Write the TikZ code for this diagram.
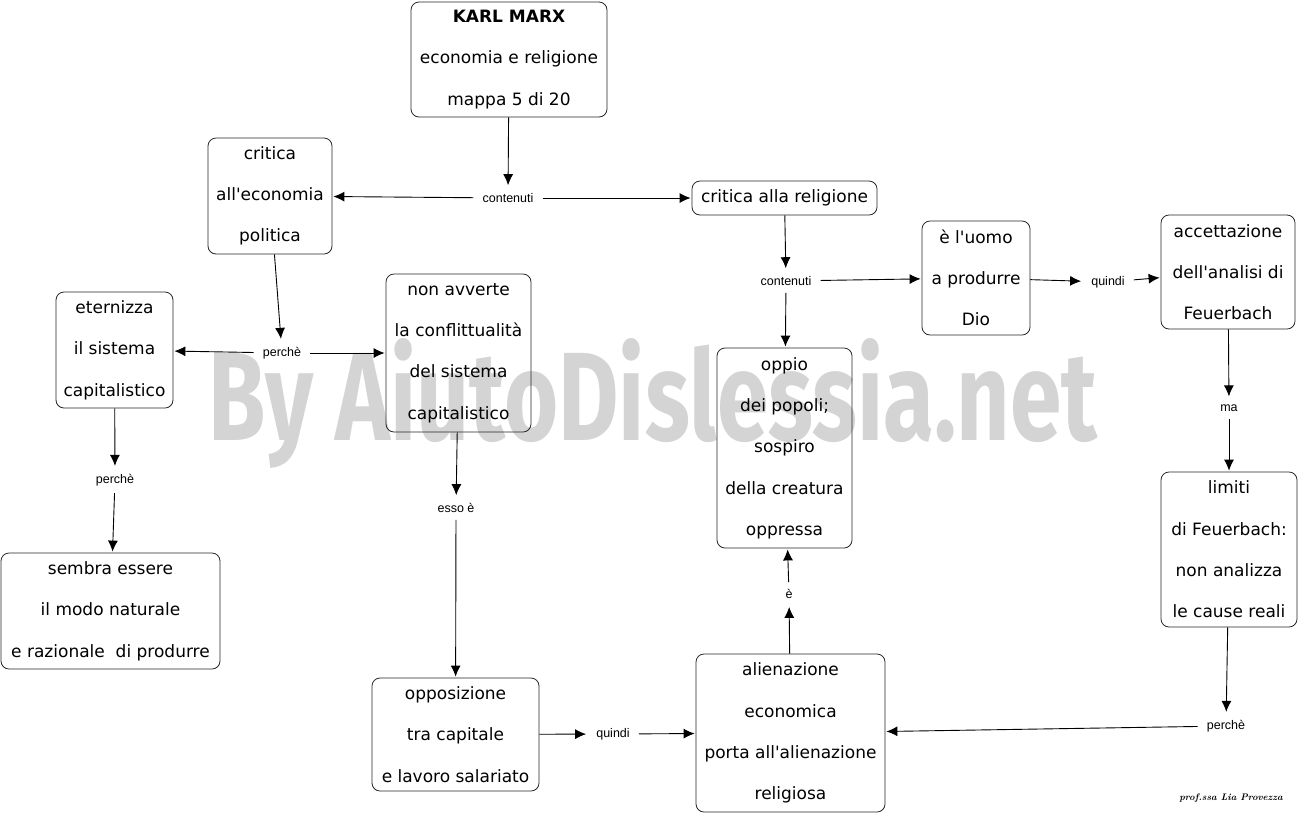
\documentclass[tikz,border=0pt]{standalone}
\usepackage{graphicx}
\usepackage{xcolor}
\usepackage{fontspec}
\usepackage{tikz}
\usetikzlibrary{arrows.meta}
\newfontfamily\boxfont{DejaVu Sans}
\newfontfamily\linkfont{Liberation Sans}
\newfontfamily\markfont{Fira Sans}
\definecolor{mark}{HTML}{D4D4D4}

\begin{document}
\begin{tikzpicture}[x = 1pt, y = -1pt,
  concept/.style = {draw = black!85, line width = .8pt, rounded corners = 8pt, align = center,
    inner sep = 0pt, font = \boxfont\fontsize{17}{41.3}\selectfont},
  word/.style = {inner xsep = 9pt, inner ysep = 7pt, font = \linkfont\fontsize{12.5}{14}\selectfont},
  link/.style = {-{Latex[length = 11pt, width = 10pt]}, line width = .9pt, shorten > = 1pt}]
  \useasboundingbox (0, 0) rectangle (1300, 815);
  % watermark
  \node[anchor = base west, inner sep = 0pt, text = mark] at (208, 440) (wm)
    {\resizebox{889pt}{102pt}{\markfont\bfseries By AiutoDislessia.net}};
  % concepts
  \node[concept, minimum width = 196pt, minimum height = 115pt] at (509, 59.5) (marx)
    {\textbf{KARL MARX}\\economia e religione\\mappa 5 di 20};
  \node[concept, minimum width = 124pt, minimum height = 116pt] at (270, 196) (econ)
    {critica\\all'economia\\politica};
  \node[concept, minimum width = 185pt, minimum height = 34pt] at (784.5, 198) (rel)
    {critica alla religione};
  \node[concept, minimum width = 117pt, minimum height = 116pt] at (114.5, 350) (eterna)
    {eternizza\\il sistema\\capitalistico};
  \node[concept, minimum width = 145pt, minimum height = 158pt] at (458.5, 353) (avverte)
    {non avverte\\la conflittualità\\del sistema\\capitalistico};
  \node[concept, minimum width = 108pt, minimum height = 114pt] at (976, 278) (uomo)
    {è l'uomo\\a produrre\\Dio};
  \node[concept, minimum width = 134pt, minimum height = 114pt] at (1228, 272) (feuer)
    {accettazione\\dell'analisi di\\Feuerbach};
  \node[concept, minimum width = 135pt, minimum height = 200pt] at (784.5, 448) (oppio)
    {oppio\\dei popoli;\\sospiro\\della creatura\\oppressa};
  \node[concept, minimum width = 136pt, minimum height = 155pt] at (1229, 549.5) (limiti)
    {limiti\\di Feuerbach:\\non analizza\\le cause reali};
  \node[concept, minimum width = 219pt, minimum height = 116pt] at (110.5, 611) (sembra)
    {sembra essere\\il modo naturale\\e razionale~ di produrre};
  \node[concept, minimum width = 167pt, minimum height = 113pt] at (455.5, 734.5) (oppos)
    {opposizione\\tra capitale\\e lavoro salariato};
  \node[concept, minimum width = 189pt, minimum height = 158pt] at (790.5, 733) (alien)
    {alienazione\\economica\\porta all'alienazione\\religiosa};
  % linking words
  \node[word] at (508, 198) (cont1) {contenuti};
  \node[word] at (282, 353) (perch1) {perchè};
  \node[word] at (115, 480) (perch2) {perchè};
  \node[word] at (456, 508) (esso) {esso è};
  \node[word] at (786, 281) (cont2) {contenuti};
  \node[word] at (1108, 282) (quindi1) {quindi};
  \node[word] at (1229, 408) (ma) {ma};
  \node[word] at (1226, 726) (perch3) {perchè};
  \node[word] at (789, 594) (e) {è};
  \node[word] at (613, 734) (quindi2) {quindi};
  % connectors
  \draw[link] (marx) -- (cont1);
  \draw[link] (cont1) -- (econ);
  \draw[link] (cont1) -- (rel);
  \draw[link] (econ) -- (perch1);
  \draw[link] (perch1) -- (eterna);
  \draw[link] (perch1) -- (avverte);
  \draw[link] (eterna) -- (perch2);
  \draw[link] (perch2) -- (sembra);
  \draw[link] (avverte) -- (esso);
  \draw[link] (esso) -- (oppos);
  \draw[link] (rel) -- (cont2);
  \draw[link] (cont2) -- (oppio);
  \draw[link] (cont2) -- (uomo);
  \draw[link] (uomo) -- (quindi1);
  \draw[link] (quindi1) -- (feuer);
  \draw[link] (feuer) -- (ma);
  \draw[link] (ma) -- (limiti);
  \draw[link] (limiti) -- (perch3);
  \draw[link] (perch3) -- (alien);
  \draw[link] (alien) -- (e);
  \draw[link] (e) -- (oppio);
  \draw[link] (oppos) -- (quindi2);
  \draw[link] (quindi2) -- (alien);
  % signature
  \node[font = \fontsize{9.5}{11}\selectfont\itshape\bfseries] at (1231, 798) (firma) {prof.ssa Lia Provezza};
\end{tikzpicture}
\end{document}
